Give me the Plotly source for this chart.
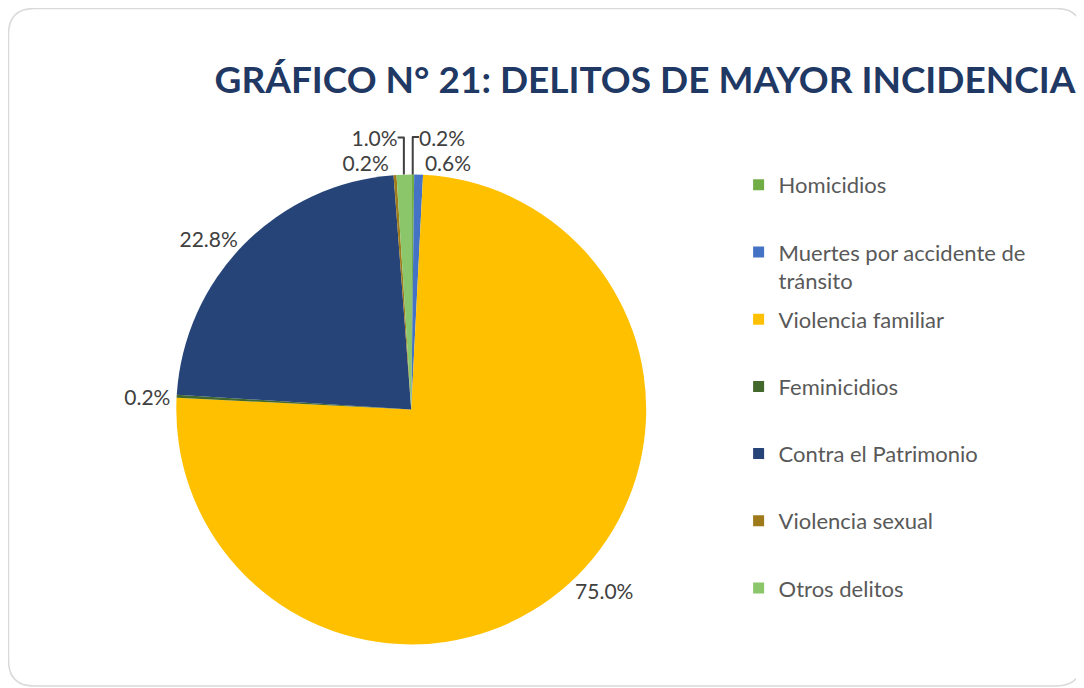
import plotly.graph_objects as go

categories = ["Homicidios", "Muertes por accidente de tránsito", "Violencia familiar",
              "Feminicidios", "Contra el Patrimonio", "Violencia sexual", "Otros delitos"]
legend_labels = ["Homicidios", "Muertes por accidente de<br>tránsito", "Violencia familiar",
                 "Feminicidios", "Contra el Patrimonio", "Violencia sexual", "Otros delitos"]
values = [0.2, 0.6, 75.0, 0.2, 22.8, 0.2, 1.0]
colors = ["#70AD47", "#4472C4", "#FFC000", "#43682B", "#264478", "#9E7A1A", "#8CC66B"]

title_text = "GRÁFICO N° 21: DELITOS DE MAYOR INCIDENCIA"

W, H = 1084, 688
OFF = 8  # page body margin
fig = go.Figure()

fig.add_trace(go.Pie(
    labels=categories, values=values, sort=False, direction="clockwise", rotation=0,
    marker=dict(colors=colors, line=dict(color="white", width=0)),
    textposition="outside", texttemplate="%{percent:.1%}",
    outsidetextfont=dict(family="Lato", size=21, color="#404040"),
    showlegend=False, domain=dict(x=[0.12, 0.624], y=[0.075, 0.758]),
    hoverinfo="label+percent",
))

for name, col in zip(legend_labels, colors):
    lab = name if "<br>" in name else name + "<br> "
    fig.add_trace(go.Scatter(
        x=[None], y=[None], mode="markers", name=lab, legendgroup=name,
        marker=dict(symbol="square", size=11, color=col),
    ))

# rounded border
x0, x1 = 0.5 / W, (1082 - OFF) / W
y0, y1 = 1 - (686 - OFF) / H, 1 - 0.5 / H
rx, ry = 26 / W, 26 / H
path = (f"M {x0+rx},{y1} L {x1-rx},{y1} Q {x1},{y1} {x1},{y1-ry} "
        f"L {x1},{y0+ry} Q {x1},{y0} {x1-rx},{y0} L {x0+rx},{y0} "
        f"Q {x0},{y0} {x0},{y0+ry} L {x0},{y1-ry} Q {x0},{y1} {x0+rx},{y1} Z")

fig.update_layout(
    width=W, height=H, margin=dict(l=0, r=0, t=0, b=0),
    paper_bgcolor="white", plot_bgcolor="white",
    title=dict(text=f"<b>{title_text}</b>", x=(645 - OFF) / W, xanchor="center",
               y=1 - (80 - OFF) / H, yanchor="middle",
               font=dict(family="Lato", size=37, color="#1F3864")),
    xaxis=dict(visible=False), yaxis=dict(visible=False),
    legend=dict(x=0.674, xanchor="left", y=1 - 156 / H, yanchor="top",
                font=dict(family="Lato", size=22, color="#595959"),
                tracegroupgap=7, valign="top", bgcolor="rgba(0,0,0,0)"),
    shapes=[dict(type="path", path=path, xref="paper", yref="paper",
                 line=dict(color="#D9D9D9", width=1.5), layer="below")],
)

fig.write_html("out.html")
